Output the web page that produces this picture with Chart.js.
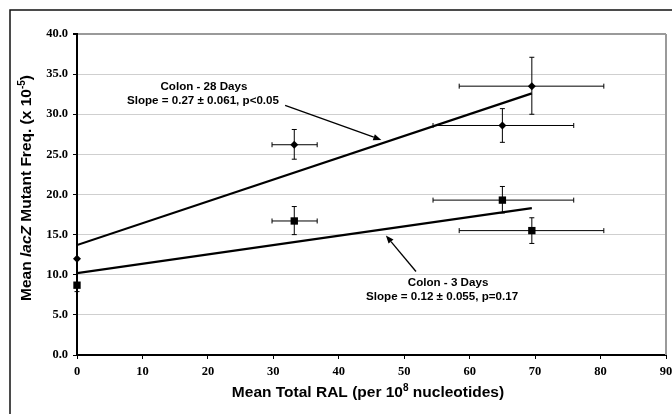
<!DOCTYPE html>
<html>
<head>
<meta charset="utf-8">
<script src="https://cdn.jsdelivr.net/npm/chart.js@4.4.0/dist/chart.umd.min.js"></script>
<style>
  body { margin: 0; background: #fff; }
  #wrap { width: 672px; height: 414px; }
</style>
</head>
<body>
<div id="wrap"><canvas id="chart" width="672" height="414"></canvas></div>
<script>
// values
var ral   = [0, 33.2, 65.0, 69.5];      // mean total RAL
var ralLo = [0, 29.8, 54.4, 58.4];
var ralHi = [0, 36.7, 75.9, 80.5];

var mf28   = [12.0, 26.2, 28.6, 33.5];  // colon 28 days
var mf28Lo = [12.0, 24.4, 26.5, 30.0];
var mf28Hi = [12.0, 28.1, 30.7, 37.1];

var mf3   = [8.7, 16.7, 19.3, 15.5];    // colon 3 days
var mf3Lo = [7.9, 15.0, 17.7, 13.9];
var mf3Hi = [8.7, 18.5, 21.0, 17.1];

var fitX  = [0, 69.5];
var fit28 = [13.7, 32.6];
var fit3  = [10.2, 18.3];

function pts(xs, ys) {
  return xs.map(function (x, i) { return { x: x, y: ys[i] }; });
}

var LBL = '"Liberation Sans", Arial, sans-serif';
var SERIF = '"Liberation Serif", "Times New Roman", serif';

// error bars under the markers
var errorBars = {
  id: 'errorBars',
  beforeDatasetsDraw: function (chart) {
    var ctx = chart.ctx, xs = chart.scales.x, ys = chart.scales.y;
    var sets = [[mf28, mf28Lo, mf28Hi], [mf3, mf3Lo, mf3Hi]];
    ctx.save();
    ctx.strokeStyle = '#000';
    ctx.lineWidth = 1;
    sets.forEach(function (s) {
      for (var i = 0; i < ral.length; i++) {
        var px = xs.getPixelForValue(ral[i]), py = ys.getPixelForValue(s[0][i]);
        var x1 = xs.getPixelForValue(ralLo[i]), x2 = xs.getPixelForValue(ralHi[i]);
        var y1 = ys.getPixelForValue(s[1][i]), y2 = ys.getPixelForValue(s[2][i]);
        ctx.beginPath();
        if (x2 - x1 > 1) {
          ctx.moveTo(x1, py); ctx.lineTo(x2, py);
          ctx.moveTo(x1, py - 2.5); ctx.lineTo(x1, py + 2.5);
          ctx.moveTo(x2, py - 2.5); ctx.lineTo(x2, py + 2.5);
        }
        if (Math.abs(y2 - y1) > 1) {
          ctx.moveTo(px, y1); ctx.lineTo(px, y2);
          ctx.moveTo(px - 2.5, y1); ctx.lineTo(px + 2.5, y1);
          ctx.moveTo(px - 2.5, y2); ctx.lineTo(px + 2.5, y2);
        }
        ctx.stroke();
      }
    });
    ctx.restore();
  }
};

function arrow(ctx, x1, y1, x2, y2) {
  var a = Math.atan2(y2 - y1, x2 - x1), L = 8, W = 3.2;
  ctx.beginPath();
  ctx.moveTo(x1, y1);
  ctx.lineTo(x2 - L * Math.cos(a), y2 - L * Math.sin(a));
  ctx.stroke();
  ctx.beginPath();
  ctx.moveTo(x2, y2);
  ctx.lineTo(x2 - L * Math.cos(a) + W * Math.sin(a), y2 - L * Math.sin(a) - W * Math.cos(a));
  ctx.lineTo(x2 - L * Math.cos(a) - W * Math.sin(a), y2 - L * Math.sin(a) + W * Math.cos(a));
  ctx.closePath();
  ctx.fill();
}

// draws a run of [text, font, raise] pieces centred on 0,0
function drawRuns(ctx, runs) {
  var total = 0;
  runs.forEach(function (r) { ctx.font = r[1]; total += ctx.measureText(r[0]).width; });
  var x = -total / 2;
  runs.forEach(function (r) {
    ctx.font = r[1];
    ctx.fillText(r[0], x, r[2] || 0);
    x += ctx.measureText(r[0]).width;
  });
}

var notes = [
  { lines: ['Colon - 28 Days', 'Slope = 0.27 \u00b1 0.061, p<0.05'], x: 19.4, y: 33.4, dx: [0, -1],
    from: [31.8, 31.1], to: [46.5, 26.8] },
  { lines: ['Colon - 3 Days', 'Slope = 0.12 \u00b1 0.055, p=0.17'], x: 56.7, y: 9.05, dx: [0, -6],
    from: [51.8, 10.4], to: [47.2, 14.9] }
];

var decorations = {
  id: 'decorations',
  afterDraw: function (chart) {
    var ctx = chart.ctx, xs = chart.scales.x, ys = chart.scales.y, ca = chart.chartArea;
    ctx.save();
    // plot area right edge
    ctx.strokeStyle = '#9a9a9a';
    ctx.lineWidth = 2;
    ctx.beginPath();
    ctx.moveTo(ca.right, ca.top); ctx.lineTo(ca.right, ca.bottom);
    ctx.stroke();

    // outer frame
    ctx.strokeStyle = '#111';
    ctx.lineWidth = 1.5;
    ctx.strokeRect(10, 10, 720, 460);

    ctx.fillStyle = '#000';
    ctx.strokeStyle = '#000';
    ctx.textAlign = 'left';
    ctx.textBaseline = 'middle';

    // axis titles
    var b = 'bold 15.5px ' + LBL, sup = 'bold 10px ' + LBL;
    ctx.save();
    ctx.translate(368, 393);
    drawRuns(ctx, [['Mean Total RAL (per 10', b], ['8', sup, -5], [' nucleotides)', b]]);
    ctx.restore();

    ctx.save();
    ctx.translate(27, 188);
    ctx.rotate(-Math.PI / 2);
    drawRuns(ctx, [['Mean ', b], ['lacZ', 'italic bold 15.5px ' + LBL], [' Mutant Freq. (x 10', b],
      ['-5', sup, -5], [')', b]]);
    ctx.restore();

    // annotations
    ctx.textAlign = 'center';
    ctx.font = 'bold 11.6px ' + LBL;
    ctx.lineWidth = 1.3;
    notes.forEach(function (n) {
      var cx = xs.getPixelForValue(n.x), cy = ys.getPixelForValue(n.y);
      n.lines.forEach(function (t, i) { ctx.fillText(t, cx + n.dx[i], cy + i * 14); });
      arrow(ctx, xs.getPixelForValue(n.from[0]), ys.getPixelForValue(n.from[1]),
        xs.getPixelForValue(n.to[0]), ys.getPixelForValue(n.to[1]));
    });
    ctx.restore();
  }
};

var canvas = document.getElementById('chart').getContext('2d');
window.scatter = new Chart(canvas, {
  type: 'scatter',
  data: {
    datasets: [
      { label: 'Colon - 28 Days', data: pts(ral, mf28), pointStyle: 'rectRot', pointRadius: 4,
        backgroundColor: '#000', borderColor: '#000', borderWidth: 0, clip: false },
      { label: 'Colon - 3 Days', data: pts(ral, mf3), pointStyle: 'rect', pointRadius: 5.2,
        backgroundColor: '#000', borderColor: '#000', borderWidth: 0, clip: false },
      { label: 'fit 28', data: pts(fitX, fit28), showLine: true, pointRadius: 0,
        borderColor: '#000', borderWidth: 2.2 },
      { label: 'fit 3', data: pts(fitX, fit3), showLine: true, pointRadius: 0,
        borderColor: '#000', borderWidth: 2.2 }
    ]
  },
  options: {
    responsive: false,
    animation: false,
    layout: { padding: { left: 0, right: 6, top: 34, bottom: 0 } },
    plugins: { legend: { display: false }, tooltip: { enabled: false } },
    scales: {
      x: {
        type: 'linear', min: 0, max: 90,
        ticks: { stepSize: 10, padding: 5, color: '#000', font: { family: SERIF, size: 12.5, weight: 'bold' } },
        grid: { drawOnChartArea: false, tickLength: 4, tickColor: '#000', color: '#000' },
        border: { color: '#000', width: 2 },
        afterFit: function (s) { s.height = 59; s.paddingLeft = 0; s.paddingRight = 0; }
      },
      y: {
        min: 0, max: 40,
        ticks: { stepSize: 5, padding: 5, color: '#000', font: { family: SERIF, size: 12.5, weight: 'bold' },
          callback: function (v) { return v.toFixed(1); } },
        grid: {
          tickLength: 4, tickColor: '#000',
          color: function (c) { return c.tick && c.tick.value === 40 ? '#9a9a9a' : '#cfcfcf'; },
          lineWidth: function (c) { return c.tick && c.tick.value === 40 ? 2 : 1; }
        },
        border: { color: '#000', width: 2 },
        afterFit: function (s) { s.width = 77; }
      }
    }
  },
  plugins: [errorBars, decorations]
});
</script>
</body>
</html>
